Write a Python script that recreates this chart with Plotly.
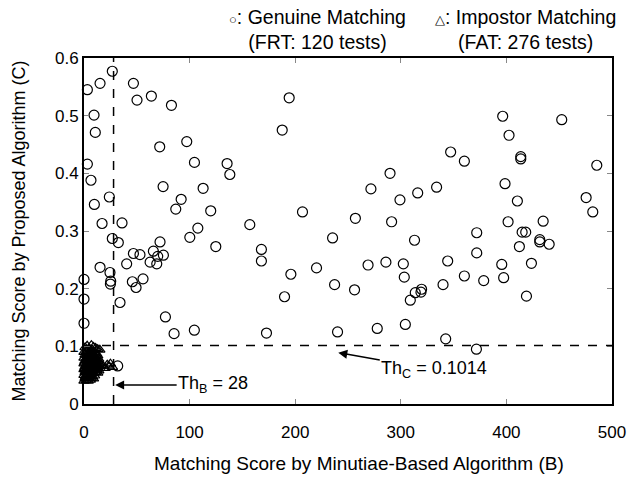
import plotly.graph_objects as go

# Thresholds
TH_B = 28
TH_C = 0.1014

# Genuine matching scores (circles): B score, C score
genuine_b = [26.8, 15.2, 3.2, 46.8, 50.2, 63.8, 82.8, 9.5, 10.7, 71.7, 97.3, 3.2, 104.6, 135.5,
             138.1, 6.6, 74.9, 112.8, 24.0, 92.0, 9.8, 86.9, 120.0, 17.1, 36.0, 107.8, 157.0,
             100.2, 26.8, 32.5, 72.0, 124.8, 46.8, 53.0, 65.7, 69.8, 75.2, 40.4, 62.6, 68.9,
             15.2, 24.6, 25.3, 25.0, 45.8, 49.3, 55.9, 34.1, 77.1, 85.3, 104.5, 0.0, 0.0, 0.0, 31.9,
             194.3, 187.7,
             235.4, 313.0, 168.0, 168.0, 257.0, 291.3, 195.9, 220.2, 269.0, 285.9, 302.4, 303.3,
             344.4, 189.9, 237.3, 256.2, 309.0, 313.7, 319.7, 319.1, 340.0, 172.8, 240.1, 277.7,
             304.3, 342.5,
             401.6, 434.8, 371.9, 414.9, 418.3, 431.6, 431.6, 440.5, 412.3, 371.9, 395.6, 423.7,
             360.2, 378.5, 397.4, 419.0, 371.6,
             396.5, 452.4, 402.5, 347.2, 360.2, 413.6, 413.6, 485.6, 289.8, 271.7, 333.9, 398.7,
             316.0, 299.2, 410.4, 475.5, 481.8, 206.9,
             2, 4, 6, 8, 3, 10, 5, 12]
genuine_c = [0.577, 0.556, 0.545, 0.556, 0.527, 0.534, 0.518, 0.501, 0.471, 0.446, 0.455, 0.416,
             0.419, 0.417, 0.398, 0.388, 0.377, 0.374, 0.359, 0.355, 0.346, 0.338, 0.335, 0.313,
             0.314, 0.305, 0.311,
             0.289, 0.287, 0.280, 0.281, 0.273, 0.261, 0.259, 0.265, 0.256, 0.258, 0.243, 0.246,
             0.243, 0.237, 0.228, 0.213, 0.208, 0.212, 0.202, 0.217, 0.176, 0.151, 0.122, 0.128,
             0.216, 0.182, 0.140, 0.066,
             0.531, 0.475,
             0.288, 0.284, 0.268, 0.248, 0.322, 0.316, 0.225, 0.236, 0.241, 0.246, 0.243, 0.220,
             0.248, 0.186, 0.207, 0.198, 0.180, 0.193, 0.199, 0.194, 0.207, 0.123, 0.125, 0.131,
             0.138, 0.113,
             0.316, 0.317, 0.297, 0.298, 0.298, 0.285, 0.281, 0.277, 0.273, 0.262, 0.242, 0.244,
             0.222, 0.214, 0.219, 0.187, 0.095,
             0.499, 0.493, 0.466, 0.437, 0.421, 0.429, 0.425, 0.414, 0.400, 0.373, 0.376, 0.382,
             0.366, 0.354, 0.352, 0.358, 0.333, 0.333,
             0.060, 0.075, 0.065, 0.080, 0.050, 0.070, 0.085, 0.060]

# Impostor matching scores (triangles), dense cluster near the origin
impostor_b = [1, 3, 5, 7, 9, 11, 13, 15,
              0, 2, 4, 6, 8, 10, 12,
              1, 3, 5, 7, 9, 11, 13,
              0, 2, 4, 6, 8, 10, 12, 14,
              1, 3, 5, 7, 9, 11, 13, 15,
              0, 2, 4, 6, 8, 10, 12, 14, 16,
              1, 3, 5, 7, 9, 11, 13, 15,
              0, 2, 4, 6, 8, 10, 12, 14,
              1, 3, 5, 7, 9, 11, 13,
              0, 2, 4, 6, 8, 10,
              1, 3, 5, 7, 9,
              0, 2, 4, 6,
              18, 20, 22, 24, 25, 27,
              0.5, 2.5, 4.5, 6.5, 8.5, 10.5, 1.5, 3.5, 5.5, 7.5, 9.5, 11.5,
              0.5, 2.5, 4.5, 6.5, 8.5, 10.5, 1.5, 3.5, 5.5, 7.5]
impostor_c = [0.098, 0.101, 0.096, 0.102, 0.099, 0.097, 0.095, 0.094,
              0.090, 0.091, 0.089, 0.090, 0.088, 0.090, 0.087,
              0.085, 0.084, 0.086, 0.085, 0.083, 0.085, 0.084,
              0.080, 0.079, 0.081, 0.080, 0.078, 0.080, 0.079, 0.078,
              0.075, 0.074, 0.076, 0.075, 0.073, 0.075, 0.074, 0.072,
              0.070, 0.069, 0.071, 0.070, 0.068, 0.070, 0.069, 0.068, 0.067,
              0.065, 0.064, 0.066, 0.065, 0.063, 0.065, 0.064, 0.062,
              0.060, 0.059, 0.061, 0.060, 0.058, 0.060, 0.059, 0.058,
              0.055, 0.054, 0.056, 0.055, 0.053, 0.055, 0.054,
              0.050, 0.049, 0.051, 0.050, 0.048, 0.049,
              0.045, 0.044, 0.046, 0.045, 0.044,
              0.040, 0.041, 0.040, 0.042,
              0.066, 0.062, 0.068, 0.065, 0.070, 0.064,
              0.072, 0.077, 0.067, 0.082, 0.062, 0.073, 0.057, 0.052, 0.087, 0.068, 0.079, 0.066,
              0.062, 0.057, 0.072, 0.052, 0.077, 0.063, 0.047, 0.067, 0.082, 0.092]

x_ticks = [0, 100, 200, 300, 400, 500]
y_ticks = [0, 0.1, 0.2, 0.3, 0.4, 0.5, 0.6]
y_tick_labels = ["0", "0.1", "0.2", "0.3", "0.4", "0.5", "0.6"]

FONT = "Liberation Sans, Arial, sans-serif"

fig = go.Figure()
fig.add_trace(go.Scatter(x=impostor_b, y=impostor_c, mode="markers", cliponaxis=False,
                         marker=dict(symbol="triangle-up-open", size=9, color="black",
                                     line=dict(width=1.2, color="black")),
                         showlegend=False))
fig.add_trace(go.Scatter(x=genuine_b, y=genuine_c, mode="markers", cliponaxis=False,
                         marker=dict(symbol="circle-open", size=10, color="black",
                                     line=dict(width=1.2, color="black")),
                         showlegend=False))

# threshold lines
fig.add_shape(type="line", xref="x", yref="y", x0=TH_B, x1=TH_B, y0=0, y1=0.6,
              line=dict(color="black", width=1.5, dash="dash"))
fig.add_shape(type="line", xref="x", yref="y", x0=0, x1=500, y0=TH_C, y1=TH_C,
              line=dict(color="black", width=1.5, dash="dash"))

# annotations with arrows
fig.add_annotation(x=29.5, y=0.033, xref="x", yref="y", ax=98, ay=0,
                   text="Th<sub>B</sub> = 28", showarrow=True, arrowhead=2, arrowsize=1.2,
                   arrowwidth=1.5, arrowcolor="black",
                   font=dict(family=FONT, size=18, color="black"))
fig.add_annotation(x=240.8, y=0.089, xref="x", yref="y", ax=96, ay=17,
                   text="Th<sub>C</sub> = 0.1014", showarrow=True, arrowhead=2, arrowsize=1.2,
                   arrowwidth=1.5, arrowcolor="black",
                   font=dict(family=FONT, size=18, color="black"))

# legend-like text above the plot
fig.add_annotation(xref="paper", yref="paper", x=0.443, y=1.081, xanchor="center", yanchor="middle",
                   showarrow=False, align="center",
                   text="<span style='font-size:13px'>○</span>: Genuine Matching<br>(FRT: 120 tests)",
                   font=dict(family=FONT, size=19.5, color="black"))
fig.add_annotation(xref="paper", yref="paper", x=0.837, y=1.081, xanchor="center", yanchor="middle",
                   showarrow=False, align="center",
                   text="<span style='font-size:13px'>△</span>: Impostor Matching<br>(FAT: 276 tests)",
                   font=dict(family=FONT, size=19.5, color="black"))

# x-axis title (slightly right of the plot centre, as in the reference)
fig.add_annotation(xref="paper", yref="paper", x=0.52, y=-0.171, xanchor="center", yanchor="middle",
                   showarrow=False, text="Matching Score by Minutiae-Based Algorithm (B)",
                   font=dict(family=FONT, size=19, color="black"))

fig.update_layout(
    width=629, height=477,
    margin=dict(l=84, r=17, t=58, b=73, autoexpand=False),
    paper_bgcolor="white", plot_bgcolor="white",
    font=dict(family=FONT, size=17, color="black"),
    xaxis=dict(range=[0, 500], tickvals=x_ticks, showgrid=False, zeroline=False,
               showline=True, linewidth=2, linecolor="black", mirror="ticks",
               ticks="inside", ticklen=5, tickcolor="#888", automargin=False,
               ticklabelstandoff=12),
    yaxis=dict(range=[0, 0.6], tickvals=y_ticks, ticktext=y_tick_labels,
               ticksuffix="\u2002", showgrid=False, zeroline=False,
               showline=True, linewidth=2, linecolor="black", mirror="ticks",
               ticks="inside", ticklen=5, tickcolor="#888", automargin=False,
               title=dict(text="Matching Score by Proposed Algorithm (C)",
                          font=dict(size=18), standoff=25)),
)

fig.write_html("out.html", config={"displayModeBar": False},
               post_script="document.body.style.margin='0';")
